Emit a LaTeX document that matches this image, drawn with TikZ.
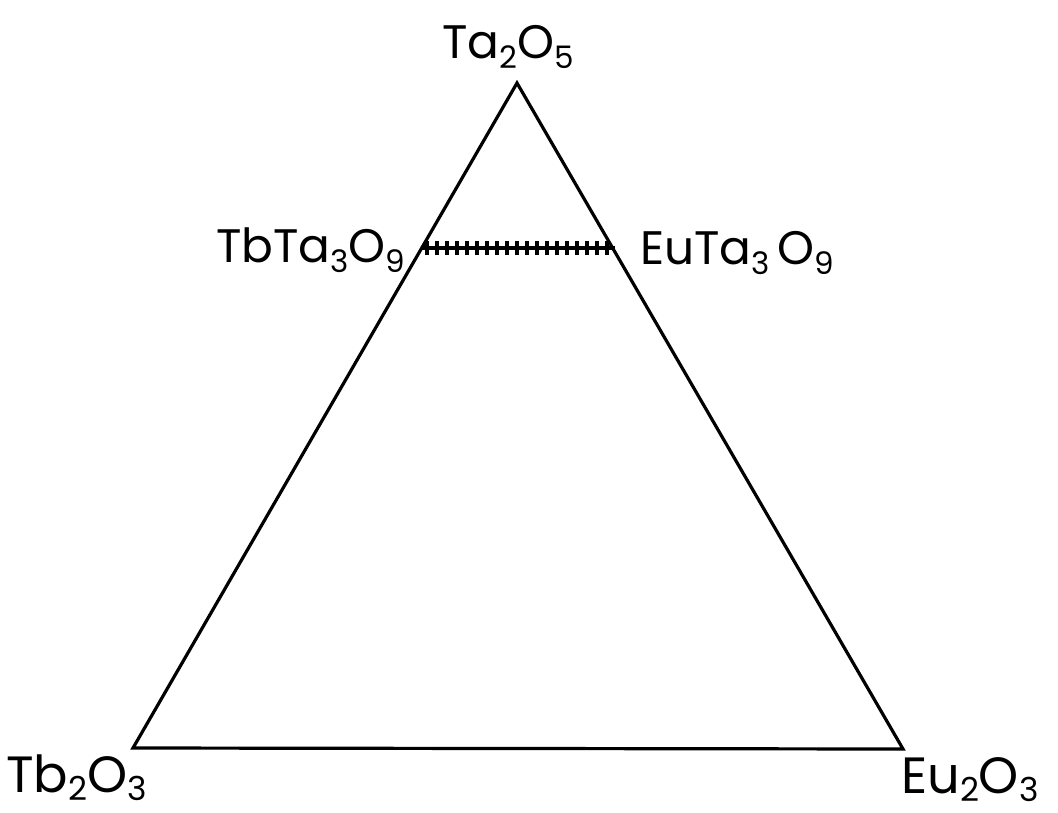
\documentclass[tikz,border=0pt]{standalone}
\usepackage{fontspec}
\usetikzlibrary{calc}
\setmainfont{Poppins}
\newcommand\subtop[1]{\raisebox{-0.22em}{\fontsize{31}{33}\selectfont #1}}
\newcommand\subbot[1]{\raisebox{-0.16em}{\fontsize{33}{35}\selectfont #1}}
\begin{document}
\begin{tikzpicture}[x=1pt,y=-1pt,
  lbltop/.style={inner sep=0pt, font=\fontsize{47}{50}\selectfont},
  lblbot/.style={inner sep=0pt, font=\fontsize{51}{54}\selectfont},
  edge/.style={line width=3.2pt, line join=miter},
  hatchline/.style={line width=3.2pt},
  tick/.style={line width=3.2pt}]
\useasboundingbox (0,0) rectangle (1058,812);
\coordinate (T) at (517,83);
\coordinate (L) at (133,748);
\coordinate (R) at (903,749);
\draw[edge] (L) -- (T) -- (R) -- cycle;
\coordinate (h1) at (421,248);
\coordinate (h2) at (615,248);
\draw[hatchline] (h1) -- (h2);
\foreach \i in {0,...,18} {
  \draw[tick] ($(h1)+(6+10*\i,-7)$) -- ($(h1)+(6+10*\i,7)$);
}
\node[lbltop, anchor=base west] (ta) at (442,58) {Ta\subtop{2}O\subtop{5}};
\node[lbltop, anchor=base west] (tbta) at (216,262) {TbTa\subtop{3}O\subtop{9}};
\node[lbltop, anchor=base west] (euta) at (640,264) {EuTa\subtop{3}\,O\subtop{9}};
\node[lblbot, anchor=base west] (tb) at (6,792) {Tb\subbot{2}O\subbot{3}};
\node[lblbot, anchor=base west] (eu) at (901,793) {Eu\subbot{2}O\subbot{3}};
\end{tikzpicture}
\end{document}
